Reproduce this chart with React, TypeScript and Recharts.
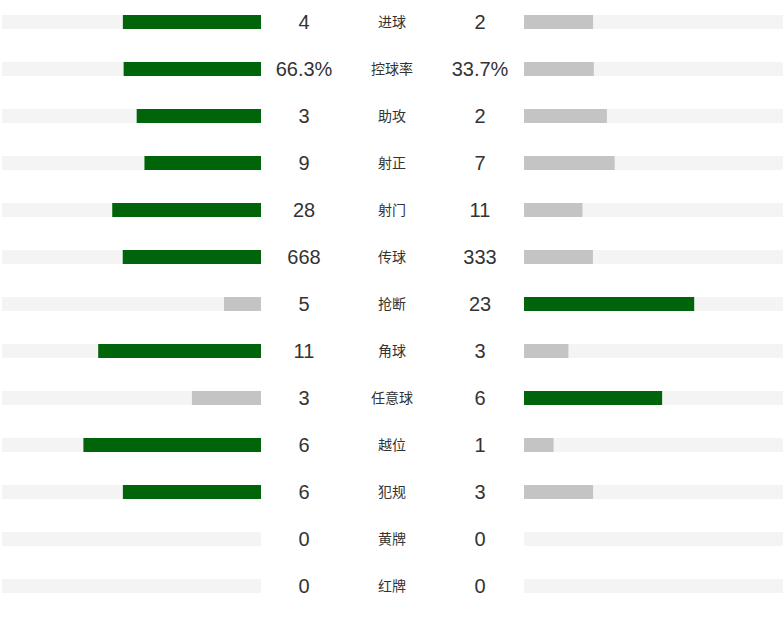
import { BarChart, Bar, XAxis, YAxis, Cell } from "recharts";

// match stats, home (left) vs away (right)
const categories = ["进球", "控球率", "助攻", "射正", "射门", "传球", "抢断", "角球", "任意球", "越位", "犯规", "黄牌", "红牌"];
const homeValues = [4, 66.3, 3, 9, 28, 668, 5, 11, 3, 6, 6, 0, 0];
const awayValues = [2, 33.7, 2, 7, 11, 333, 23, 3, 6, 1, 3, 0, 0];
const units = ["", "%", "", "", "", "", "", "", "", "", "", "", ""];

const GREEN = "#00640a";
const GRAY = "#c4c4c4";
const TRACK = "#f4f4f4";
const FONT = '"Liberation Sans", Arial, "Noto Sans CJK SC", sans-serif';
const SCALE_MAX = 1.25;

const data = categories.map((name, i) => {
  const total = homeValues[i] + awayValues[i];
  return {
    name,
    home: homeValues[i],
    away: awayValues[i],
    homeShare: total ? homeValues[i] / total : 0,
    awayShare: total ? awayValues[i] / total : 0,
    track: SCALE_MAX,
    unit: units[i],
  };
});

const CenterTick = (props: any) => {
  const { y, index } = props;
  const d = data[index];
  return (
    <g>
      <text x={304} y={y} textAnchor="middle" dominantBaseline="central" fontSize={20} fill="#333" fontFamily={FONT}>
        {d.home + d.unit}
      </text>
      <text x={392} y={y} textAnchor="middle" dominantBaseline="central" fontSize={14} fill="#333" fontFamily={FONT}>
        {d.name}
      </text>
      <text x={480} y={y} textAnchor="middle" dominantBaseline="central" fontSize={20} fill="#333" fontFamily={FONT}>
        {d.away + d.unit}
      </text>
    </g>
  );
};

export default function App() {
  return (
    <div style={{ position: "absolute", left: 0, top: -2, width: 783, height: 619 }}>
      <div style={{ position: "absolute", left: 0, top: 0 }}>
        <BarChart width={524} height={618} data={data} layout="vertical" barGap={-14} margin={{ top: 0, right: 0, bottom: 7, left: 2 }}>
          <XAxis type="number" domain={[0, SCALE_MAX]} reversed hide />
          <YAxis
            type="category"
            dataKey="name"
            orientation="right"
            width={263}
            axisLine={false}
            tickLine={false}
            interval={0}
            tick={<CenterTick />}
          />
          <Bar dataKey="track" barSize={14} fill={TRACK} isAnimationActive={false} />
          <Bar dataKey="homeShare" barSize={14} isAnimationActive={false}>
            {data.map((d, i) => (
              <Cell key={i} fill={d.home > d.away ? GREEN : GRAY} />
            ))}
          </Bar>
        </BarChart>
      </div>
      <div style={{ position: "absolute", left: 524, top: 0 }}>
        <BarChart width={259} height={618} data={data} layout="vertical" barGap={-14} margin={{ top: 0, right: 0, bottom: 7, left: 0 }}>
          <XAxis type="number" domain={[0, SCALE_MAX]} hide />
          <YAxis type="category" dataKey="name" hide />
          <Bar dataKey="track" barSize={14} fill={TRACK} isAnimationActive={false} />
          <Bar dataKey="awayShare" barSize={14} isAnimationActive={false}>
            {data.map((d, i) => (
              <Cell key={i} fill={d.away > d.home ? GREEN : GRAY} />
            ))}
          </Bar>
        </BarChart>
      </div>
    </div>
  );
}
